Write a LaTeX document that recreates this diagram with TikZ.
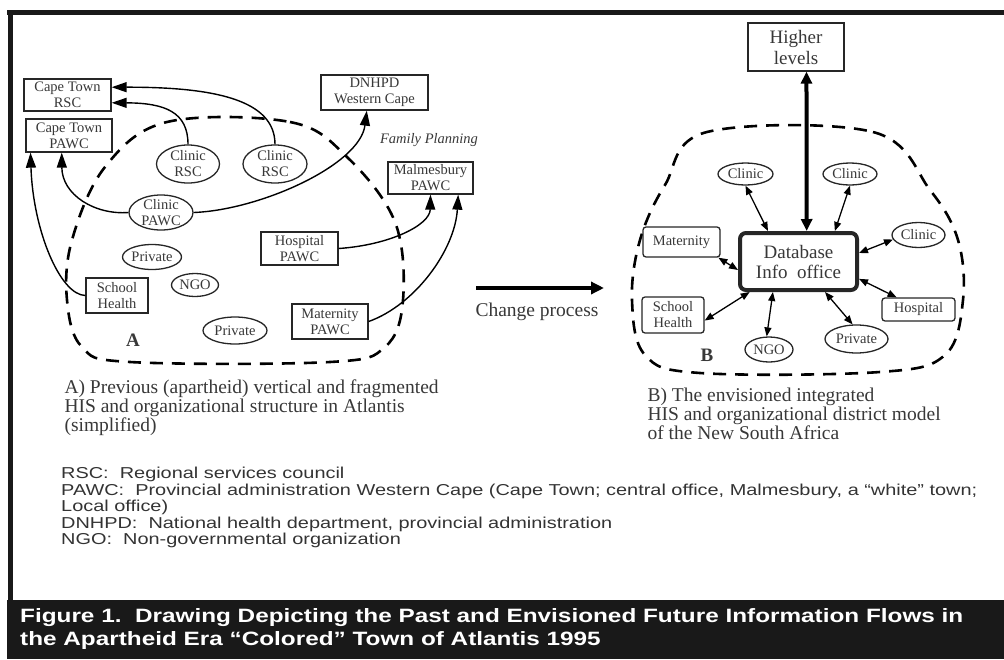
\documentclass[tikz,border=0pt]{standalone}
\usepackage{fontspec}
\setmainfont{Liberation Serif}
\newfontfamily\legende[FakeStretch=1.26]{Liberation Sans}
\usetikzlibrary{arrows.meta,shapes.geometric}
\definecolor{encre}{gray}{0.22}
\tikzset{
  boite/.style={draw=black!85,line width=1.3pt,fill=white,align=center,inner sep=1pt,text=encre,font=\fontsize{14.5}{16}\selectfont},
  bulle/.style={ellipse,draw=black!85,line width=1.3pt,fill=white,align=center,inner xsep=0pt,inner ysep=-6pt,text=encre,font=\fontsize{14.5}{16}\selectfont},
  fleche/.style={line width=1.4pt,-{Triangle[length=15pt,width=10pt]}},
  flechedouble/.style={line width=1.3pt,{Triangle[length=9pt,width=7pt]}-{Triangle[length=9pt,width=7pt]}},
  pointille/.style={line width=2.6pt,dash pattern=on 13pt off 9pt},
}
\begin{document}
\begin{tikzpicture}[x=1pt,y=-1pt]
  \useasboundingbox (0,0) rectangle (1004,659);
  \fill[black!90] (7,600) rectangle (1004,659);
  \draw[line width=5pt,black!90] (7,12.5) -- (1004,12.5);
  \draw[line width=5pt,black!90] (10,10) -- (10,600);

  \draw[pointille] plot[smooth cycle,tension=0.6] coordinates {(167,122) (290,122) (347,157) (395,222) (403,300) (385,347) (330,362) (130,362) (82,347) (67,300) (72,240) (105,167)};
  \draw[pointille] plot[smooth cycle,tension=0.6] coordinates {(707,132) (873,132) (930,190) (958,240) (963,300) (945,355) (880,372) (700,373) (645,355) (632,300) (640,240) (665,185)};

  \node[boite,minimum width=87pt,minimum height=32pt] (rsc) at (67.5,95) {Cape Town\\RSC};
  \node[boite,minimum width=86pt,minimum height=33pt] (ctp) at (69,135.5) {Cape Town\\PAWC};
  \node[boite,minimum width=107pt,minimum height=35pt] (dn) at (374.5,92.5) {DNHPD\\Western Cape};
  \node[text=encre,font=\itshape\fontsize{14.5}{15}\selectfont] (fp) at (429,140) {Family Planning};
  \node[boite,minimum width=85pt,minimum height=32pt] (mp) at (430.5,178) {Malmesbury\\PAWC};
  \node[bulle,minimum width=63pt,minimum height=38pt] (c1) at (188,164) {Clinic\\RSC};
  \node[bulle,minimum width=64pt,minimum height=38pt] (c2) at (275,164) {Clinic\\RSC};
  \node[bulle,minimum width=64pt,minimum height=35pt] (cp) at (161,212.5) {Clinic\\PAWC};
  \node[boite,minimum width=77pt,minimum height=33pt] (hp) at (299.5,248.5) {Hospital\\PAWC};
  \node[bulle,minimum width=59pt,minimum height=25pt] (pv1) at (152,257) {Private};
  \node[bulle,minimum width=47pt,minimum height=23pt] (ngo1) at (195,285) {NGO};
  \node[boite,minimum width=62pt,minimum height=35pt] (sh1) at (117,295.5) {School\\Health};
  \node[boite,minimum width=76pt,minimum height=35pt] (mt1) at (330,321.5) {Maternity\\PAWC};
  \node[bulle,minimum width=64pt,minimum height=27pt] (pv2) at (235,330.5) {Private};
  \node[text=encre,font=\bfseries\fontsize{19}{19}\selectfont] (la) at (133,340) {A};

  \draw[fleche] (c2.north) .. controls (275,100) and (215,87) .. (rsc.10);
  \draw[fleche] (c1.north) .. controls (188,112) and (165,103) .. (rsc.-10);
  \draw[fleche] (cp.west) .. controls (95,215) and (62,195) .. (ctp.247);
  \draw[fleche] (cp.east) .. controls (260,210) and (360,165) .. (dn.247);
  \draw[fleche] (sh1.west) .. controls (60,295) and (33,230) .. (ctp.204);
  \draw[fleche] (hp.east) .. controls (390,245) and (430,225) .. (mp.south);
  \draw[fleche] (mt1.east) .. controls (415,305) and (455,250) .. (mp.-31);

  \node[boite,minimum width=96pt,minimum height=48pt,font=\fontsize{19}{21}\selectfont] (hl) at (796,47) {Higher\\levels};
  \node[boite,rounded corners=6pt,line width=4pt,minimum width=117pt,minimum height=57pt,font=\fontsize{19}{20}\selectfont] (db) at (798.5,261.5) {Database\\Info\ \ office};
  \node[bulle,minimum width=55pt,minimum height=22pt] (k1) at (745.5,174) {Clinic};
  \node[bulle,minimum width=54pt,minimum height=22pt] (k2) at (850,174) {Clinic};
  \node[bulle,minimum width=53pt,minimum height=25pt] (k3) at (918.5,235) {Clinic};
  \node[boite,rounded corners=3pt,minimum width=77pt,minimum height=30pt] (mat) at (681.5,242) {Maternity};
  \node[boite,rounded corners=3pt,minimum width=62pt,minimum height=36pt] (sh2) at (673,315) {School\\Health};
  \node[boite,rounded corners=3pt,minimum width=73pt,minimum height=23pt] (hos) at (918.5,309.5) {Hospital};
  \node[bulle,minimum width=48pt,minimum height=25pt] (ngo2) at (769,349.5) {NGO};
  \node[bulle,minimum width=63pt,minimum height=28pt] (pv3) at (856.5,339) {Private};
  \node[text=encre,font=\bfseries\fontsize{19}{19}\selectfont] (lb) at (707,355) {B};

  \draw[line width=4pt,{Triangle[length=12pt,width=11pt]}-{Triangle[length=12pt,width=11pt]}] (hl.-67) -- (db.75);
  \draw[flechedouble] (k1.south) -- (db.135);
  \draw[flechedouble] (k2.south) -- (db.40);
  \draw[flechedouble] (db.8) -- (k3.190);
  \draw[flechedouble] (mat.-23) -- (db.188);
  \draw[flechedouble] (db.212) -- (sh2.-10);
  \draw[flechedouble] (db.230) -- (ngo2.100);
  \draw[flechedouble] (db.-49) -- (pv3.105);
  \draw[flechedouble] (db.-16) -- (hos.151);

  \coordinate (dep) at (476,288);
  \coordinate (arr) at (604,288);
  \draw[line width=4.5pt,-{Triangle[length=13pt,width=12pt]}] (dep) -- (arr);
  \node[text=encre,font=\fontsize{19.5}{20}\selectfont] (chg) at (537,312) {Change process};

  \node[anchor=west,align=left,text=encre,font=\fontsize{19.5}{17.5}\selectfont] (capa) at (61,408) {A) Previous (apartheid) vertical and fragmented\\HIS and organizational structure in Atlantis\\(simplified)};
  \node[anchor=west,align=left,text=encre,font=\fontsize{19.5}{17.5}\selectfont] (capb) at (644,414) {B) The envisioned integrated\\HIS and organizational district model\\of the New South Africa};

  \node[anchor=north west,align=left,inner sep=0pt,text=black!80,font=\legende\fontsize{15.8}{16.5}\selectfont] (leg) at (61,467) {RSC:\ \ Regional services council\\PAWC:\ \ Provincial administration Western Cape (Cape Town; central office, Malmesbury, a “white” town;\\Local office)\\DNHPD:\ \ National health department, provincial administration\\NGO:\ \ Non-governmental organization};
  \node[anchor=north west,align=left,inner sep=0pt,text=white,font=\legende\bfseries\fontsize{19.3}{23}\selectfont] (titre) at (20,608) {Figure 1.\ \ Drawing Depicting the Past and Envisioned Future Information Flows in\\the Apartheid Era “Colored” Town of Atlantis 1995};
\end{tikzpicture}
\end{document}
